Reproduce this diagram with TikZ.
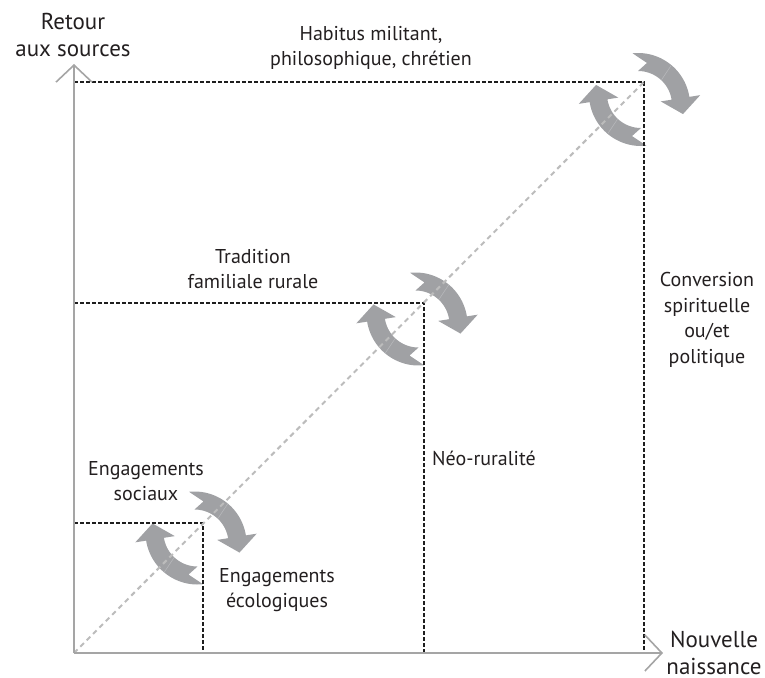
\documentclass[tikz,border=0pt]{standalone}
\usepackage{fontspec}
\setmainfont{PT Sans}
\usetikzlibrary{arrows.meta}
\definecolor{arrowgray}{RGB}{160,161,164}
\definecolor{seamgray}{RGB}{182,183,186}
\definecolor{axisgray}{RGB}{165,165,165}
\definecolor{diaggray}{RGB}{188,188,188}
\definecolor{dashblack}{RGB}{30,30,30}
\definecolor{txt}{RGB}{35,31,32}
\begin{document}
\begin{tikzpicture}[x=1pt,y=-1pt,
  lbl/.style={inner sep=0pt, align=center, font=\fontsize{20}{25.5}\selectfont, text=txt},
  axlbl/.style={inner sep=0pt, align=center, font=\fontsize{23}{27}\selectfont, text=txt},
  axisline/.style={draw=axisgray, line width=1.6pt, -{Straight Barb[length=17pt,width=36pt,line width=1.6pt]}},
  boxline/.style={draw=dashblack, line width=1.4pt, dash pattern=on 3.5pt off 2.5pt},
  diagline/.style={draw=diaggray, line width=2pt, dash pattern=on 5pt off 4pt},
  cyclepair/.pic={
    \foreach \rot in {0,180}{
      \begin{scope}[rotate=\rot, shift={(-1.5,5.5)}]
        \fill[arrowgray] (-96:52) -- plot[domain=-96:-9,samples=40] (\x:52)
          -- (-9:63) -- (44.97,9.07) -- (-9:23) -- (-9:34)
          -- plot[domain=-9:-90,samples=40] (\x:34) -- (-78:43) -- cycle;
        \draw[seamgray, line width=0.6pt] (-47:34.5) -- (-50:51.5);
      \end{scope}
    }
  }
]
\useasboundingbox (0,0) rectangle (765,677);
% key points
\coordinate (O) at (74,653);
\coordinate (Ytip) at (74,64);
\coordinate (Xtip) at (663,653);
\coordinate (A) at (203,523);
\coordinate (B) at (424,303);
\coordinate (C) at (644,82);
% cycle arrows
\pic (cycA) at (196,538) {cyclepair};
\pic (cycB) at (417,319) {cyclepair};
\pic (cycC) at (639.5,99.5) {cyclepair};
% dashed boxes
\draw[boxline] (O |- A) -- (A) -- (A |- O);
\draw[boxline] (O |- B) -- (B) -- (B |- O);
\draw[boxline] (O |- C) -- (C) -- (C |- O);
% diagonal
\draw[diagline] (O) -- (C);
% axes
\draw[axisline] (O) -- (Ytip);
\draw[axisline] (O) -- (Xtip);
% labels
\node[axlbl] (ret) at (73,35) {Retour\\aux sources};
\node[axlbl] (nouv) at (714,653) {Nouvelle\\naissance};
\node[lbl] (hab) at (371,48) {Habitus militant,\\philosophique, chrétien};
\node[lbl] (trad) at (253,269) {Tradition\\familiale rurale};
\node[lbl] (conv) at (707,320) {Conversion\\spirituelle\\ou/et\\politique};
\node[lbl] (neo) at (484,458) {Néo-ruralité};
\node[lbl] (engs) at (146,481) {Engagements\\sociaux};
\node[lbl] (enge) at (277,590) {Engagements\\écologiques};
\end{tikzpicture}
\end{document}
